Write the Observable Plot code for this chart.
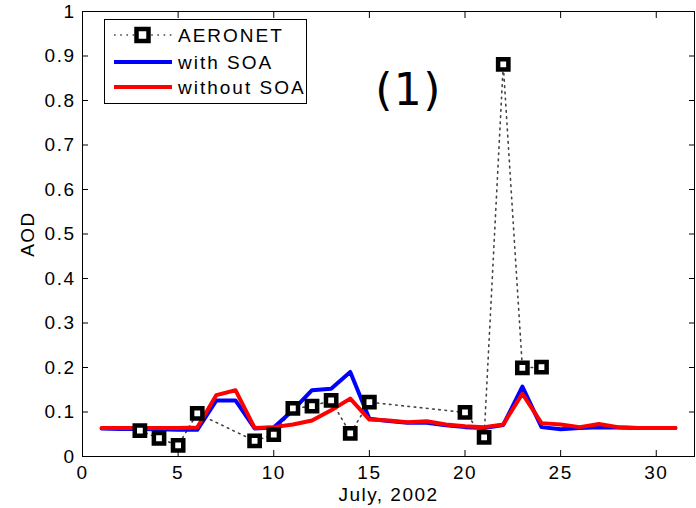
<!DOCTYPE html>
<html><head><meta charset="utf-8">
<script src="https://cdn.jsdelivr.net/npm/d3@7"></script>
<script src="https://cdn.jsdelivr.net/npm/@observablehq/plot@0.6"></script>
<style>
body{margin:0;background:#fff;}
#wrap{position:relative;width:696px;height:508px;}
#legend{position:absolute;left:104px;top:19px;}
</style>
</head><body>
<div id="wrap"></div>
<script>
// AERONET observations
const obsDays = [3,4,5,6,9,10,11,12,13,14,15,20,21,22,23,24];
const obsAOD  = [0.058,0.041,0.025,0.097,0.035,0.049,0.108,0.113,0.126,0.052,0.122,0.099,0.043,0.881,0.199,0.201];
// model days
const modelDays = d3.range(1, 32);
const withSOA    = [0.063,0.062,0.062,0.061,0.060,0.060,0.126,0.126,0.063,0.065,0.104,0.149,0.152,0.190,0.085,0.080,0.076,0.076,0.070,0.066,0.064,0.071,0.157,0.066,0.061,0.064,0.066,0.065,0.064,0.064,0.064];
const withoutSOA = [0.064,0.064,0.064,0.064,0.064,0.065,0.138,0.149,0.064,0.066,0.072,0.081,0.104,0.130,0.083,0.081,0.077,0.079,0.072,0.068,0.066,0.072,0.141,0.075,0.072,0.066,0.073,0.066,0.064,0.064,0.064];
const xTicks = [0,5,10,15,20,25,30];
const yTicks = [0,0.1,0.2,0.3,0.4,0.5,0.6,0.7,0.8,0.9,1];
const yTickLabels = ["0","0.1","0.2","0.3","0.4","0.5","0.6","0.7","0.8","0.9","1"];
const seriesNames = ["AERONET","with SOA","without SOA"];
const panelLabel = ["(1)"];
const panelX = [17.05];
const panelY = [0.822];

const obs = obsDays.map((d,i)=>({day:d, aod:obsAOD[i]}));
const blue = modelDays.map((d,i)=>({day:d, aod:withSOA[i]}));
const red = modelDays.map((d,i)=>({day:d, aod:withoutSOA[i]}));
const ann = panelLabel.map((t,i)=>({t, x:panelX[i], y:panelY[i]}));

const font = "Liberation Sans, Arial, sans-serif";

const chart = Plot.plot({
  width: 696, height: 508,
  marginLeft: 82, marginRight: 2, marginTop: 11, marginBottom: 52,
  style: {fontFamily: font, fontSize: "19px", color: "black", background: "white", letterSpacing: "1.5px"},
  x: {domain: [0, 32]},
  y: {domain: [0, 1]},
  marks: [
    Plot.frame({stroke: "black", strokeWidth: 1}),
    Plot.axisX({ticks: xTicks, tickSize: 0, tickPadding: 9, label: "July, 2002", labelAnchor: "center", labelArrow: "none", labelOffset: 44, fontSize: 19}),
    Plot.axisX({ticks: xTicks, tickSize: 6, dy: -6, text: null, label: null}),
    Plot.axisX({anchor: "top", ticks: xTicks, tickSize: 6, dy: 6, text: null, label: null}),
    Plot.axisY({ticks: yTicks, tickSize: 0, tickPadding: 7, tickFormat: (d,i)=>yTickLabels[i], label: "AOD", labelAnchor: "center", labelArrow: "none", labelOffset: 62, fontSize: 19}),
    Plot.axisY({ticks: yTicks, tickSize: 6, dx: 6, text: null, label: null}),
    Plot.axisY({anchor: "right", ticks: yTicks, tickSize: 6, dx: -6, text: null, label: null}),
    Plot.line(obs, {x: "day", y: "aod", stroke: "#444", strokeWidth: 1.6, strokeDasharray: "1.6,4.6"}),
    Plot.line(blue, {x: "day", y: "aod", stroke: "#0000ff", strokeWidth: 4}),
    Plot.line(red, {x: "day", y: "aod", stroke: "#ff0000", strokeWidth: 4}),
    Plot.dot(obs, {x: "day", y: "aod", symbol: "square", r: 5.8, stroke: "black", strokeWidth: 4.5, fill: "white"}),
    Plot.text(ann, {x: "x", y: "y", text: "t", fontSize: 44, fontFamily: "DejaVu Sans", fill: "black", letterSpacing: "3px"})
  ]
});
const wrap = document.getElementById("wrap");
wrap.appendChild(chart);

// legend overlay
const ns = "http://www.w3.org/2000/svg";
const lg = document.createElementNS(ns, "svg");
lg.setAttribute("id", "legend");
lg.setAttribute("width", 204); lg.setAttribute("height", 86);
const rows = [16, 43, 68];
let html = `<rect x="0.5" y="0.5" width="202" height="84" fill="white" stroke="black" stroke-width="1"/>`;
seriesNames.forEach((name, i) => {
  const y = rows[i];
  if (i === 0) {
    html += `<line x1="10" x2="68" y1="${y}" y2="${y}" stroke="#444" stroke-width="1.6" stroke-dasharray="1.6,4.6"/>`;
    html += `<rect x="32.5" y="${y-6}" width="12" height="12" fill="white" stroke="black" stroke-width="4.5"/>`;
  } else {
    html += `<line x1="10" x2="68" y1="${y}" y2="${y}" stroke="${i===1?'#0000ff':'#ff0000'}" stroke-width="4"/>`;
  }
  html += `<text x="74" y="${y+7}" font-family="${font}" font-size="19" letter-spacing="2" fill="black">${name}</text>`;
});
lg.innerHTML = html;
wrap.appendChild(lg);
</script>
</body></html>
